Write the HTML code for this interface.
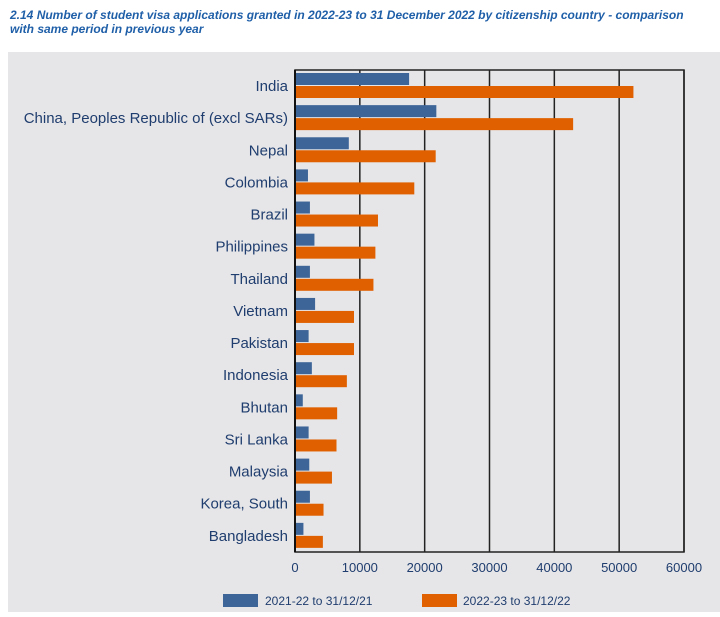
<!DOCTYPE html>
<html><head><meta charset="utf-8"><style>
body{margin:0;width:720px;height:612px;background:#fff;overflow:hidden;font-family:"Liberation Sans",Arial,sans-serif}
</style></head><body>
<svg width="720" height="612" xmlns="http://www.w3.org/2000/svg">
<text x="10" y="19" font-size="12" font-weight="bold" font-style="italic" fill="#1f5fa8">2.14 Number of student visa applications granted in 2022-23 to 31 December 2022 by citizenship country - comparison</text>
<text x="10" y="33" font-size="12" font-weight="bold" font-style="italic" fill="#1f5fa8">with same period in previous year</text>
<rect x="8" y="52" width="712" height="560" fill="#e6e6e8"/>
<g id="plot"></g>
</svg>
<script>
const categories=["India","China, Peoples Republic of (excl SARs)","Nepal","Colombia","Brazil","Philippines","Thailand","Vietnam","Pakistan","Indonesia","Bhutan","Sri Lanka","Malaysia","Korea, South","Bangladesh"];
const prev=[17600,21800,8300,2000,2300,3000,2300,3100,2100,2600,1200,2100,2200,2300,1300];
const curr=[52200,42900,21700,18400,12800,12400,12100,9100,9100,8000,6500,6400,5700,4400,4300];
const ticks=[0,10000,20000,30000,40000,50000,60000];
const seriesNames=["2021-22 to 31/12/21","2022-23 to 31/12/22"];
const NS="http://www.w3.org/2000/svg";
const g=document.getElementById('plot');
const X0=295,X1=684,Y0=70,Y1=552,MAX=60000;
const x=v=>X0+(X1-X0)*v/MAX;
const band=(Y1-Y0)/categories.length;
const y=i=>Y0+band*i;
function mk(t,a){const e=document.createElementNS(NS,t);for(const k in a)e.setAttribute(k,a[k]);g.appendChild(e);return e;}
ticks.forEach((t,i)=>{
  if(i>0){const l=mk('line',{x1:x(t),x2:x(t),y1:Y0,y2:Y1,stroke:'#222','stroke-width':1.5});
  
  }
  const tx=mk('text',{x:x(t),y:572,'font-size':13,fill:'#1f3d6e','text-anchor':'middle'});tx.textContent=t;
  
  
});
const fr=mk('rect',{x:X0,y:Y0,width:X1-X0,height:Y1-Y0,fill:'none',stroke:'#222','stroke-width':1.5});


categories.forEach((c,i)=>{
  const b1=mk('rect',{x:X0,y:y(i)+3,width:x(prev[i])-X0,height:12,fill:'#3d6598'});
  
  
  const b2=mk('rect',{x:X0,y:y(i)+16,width:x(curr[i])-X0,height:12,fill:'#e06000'});
  
  
  const t=mk('text',{x:288,y:y(i)+21,'font-size':15,fill:'#1f3d6e','text-anchor':'end'});t.textContent=c;
  
  
});
mk('line',{x1:X0,x2:X0,y1:Y0,y2:Y1,stroke:'#111','stroke-width':2});
[[223,'#3d6598',265],[422,'#e06000',463]].forEach((L,i)=>{
  const r=mk('rect',{x:L[0],y:594,width:35,height:13,fill:L[1]});
  
  
  const t=mk('text',{x:L[2],y:605,'font-size':12,fill:'#1f3d6e'});t.textContent=seriesNames[i];
  
  
});
</script>
</body></html>
